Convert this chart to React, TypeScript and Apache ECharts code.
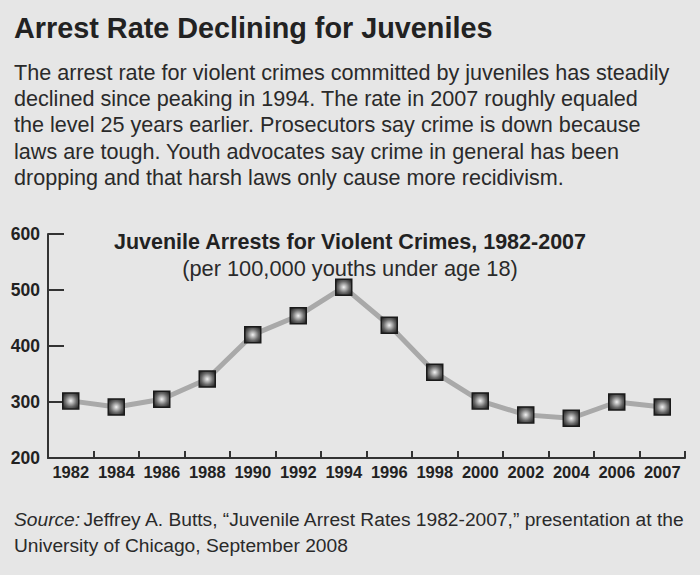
import React, { useEffect, useRef } from "react";
import * as echarts from "echarts";

const years = ["1982", "1984", "1986", "1988", "1990", "1992", "1994", "1996", "1998", "2000", "2002", "2004", "2006", "2007"];
const arrestRates = [302, 291, 305, 341, 420, 454, 505, 437, 353, 302, 277, 271, 300, 291];
const yTicks = { min: 200, max: 600, interval: 100 };

const headline = "Arrest Rate Declining for Juveniles";
const description = [
  "The arrest rate for violent crimes committed by juveniles has steadily",
  "declined since peaking in 1994. The rate in 2007 roughly equaled",
  "the level 25 years earlier. Prosecutors say crime is down because",
  "laws are tough. Youth advocates say crime in general has been",
  "dropping and that harsh laws only cause more recidivism.",
];
const chartTitle = "Juvenile Arrests for Violent Crimes, 1982-2007";
const chartSubtitle = "(per 100,000 youths under age 18)";
const sourceLine1 = "Jeffrey A. Butts, \u201CJuvenile Arrest Rates 1982-2007,\u201D presentation at the";
const sourceLine2 = "University of Chicago, September 2008";

const FONT = "'Liberation Sans', Arial, sans-serif";
const TEXT = "#222";

export default function App() {
  const ref = useRef<HTMLDivElement>(null);
  useEffect(() => {
    document.body.style.margin = "0";
    const chart = echarts.init(ref.current!, null, { renderer: "svg" });
    chart.setOption({
      animation: false,
      backgroundColor: "#e6e6e6",
      textStyle: { fontFamily: FONT },
      grid: { left: 48, right: 15, top: 234, bottom: 117 },
      xAxis: {
        type: "category",
        data: years,
        boundaryGap: true,
        axisLine: { lineStyle: { color: "#333", width: 2 } },
        axisTick: { show: true, inside: true, length: 7, interval: 0, lineStyle: { color: "#333", width: 2 } },
        axisLabel: { interval: 0, color: TEXT, fontWeight: "bold", fontSize: 16.5, margin: 5, fontFamily: FONT },
        splitLine: { show: false },
      },
      yAxis: {
        type: "value",
        min: yTicks.min,
        max: yTicks.max,
        interval: yTicks.interval,
        axisLine: { show: true, lineStyle: { color: "#333", width: 2 } },
        axisTick: { show: true, inside: true, length: 16, lineStyle: { color: "#333", width: 2 } },
        axisLabel: { color: TEXT, fontWeight: "bold", fontSize: 17.5, margin: 8, fontFamily: FONT },
        splitLine: { show: false },
      },
      series: [
        {
          type: "line",
          data: arrestRates,
          symbol: "rect",
          symbolSize: 16,
          lineStyle: { color: "#a9a9a9", width: 5 },
          itemStyle: {
            color: new echarts.graphic.RadialGradient(0.5, 0.5, 0.6, [
              { offset: 0, color: "#f2f2f2" },
              { offset: 0.6, color: "#6a6a6a" },
              { offset: 1, color: "#2a2a2a" },
            ]),
            borderColor: "#1a1a1a",
            borderWidth: 1.5,
          },
          z: 3,
        },
      ],
      graphic: [
        {
          type: "text",
          x: 14,
          y: 28,
          style: { text: headline, fontFamily: FONT, fontWeight: "bold", fontSize: 28.8, fill: TEXT, verticalAlign: "middle" },
        },
        {
          type: "text",
          x: 14,
          y: 59,
          style: { text: description.join("\n"), fontFamily: FONT, fontSize: 21.6, lineHeight: 26.3, fill: "#2a2a2a" },
        },
        {
          type: "text",
          x: 350,
          y: 242,
          style: { text: chartTitle, fontFamily: FONT, fontWeight: "bold", fontSize: 21.5, fill: TEXT, align: "center", verticalAlign: "middle" },
        },
        {
          type: "text",
          x: 350,
          y: 268,
          style: { text: chartSubtitle, fontFamily: FONT, fontSize: 21.8, fill: "#2a2a2a", align: "center", verticalAlign: "middle" },
        },
        {
          type: "text",
          x: 14,
          y: 506,
          style: {
            rich: {
              i: { fontStyle: "italic", fontFamily: FONT, fontSize: 19.2, fill: "#2a2a2a" },
              n: { fontFamily: FONT, fontSize: 19.2, fill: "#2a2a2a" },
            },
            text: "{i|Source:} {n|" + sourceLine1 + "}\n{n|" + sourceLine2 + "}",
            lineHeight: 26,
            fill: "#2a2a2a",
          },
        },
      ],
    });
    return () => chart.dispose();
  }, []);
  return <div ref={ref} style={{ width: 700, height: 575 }} />;
}
